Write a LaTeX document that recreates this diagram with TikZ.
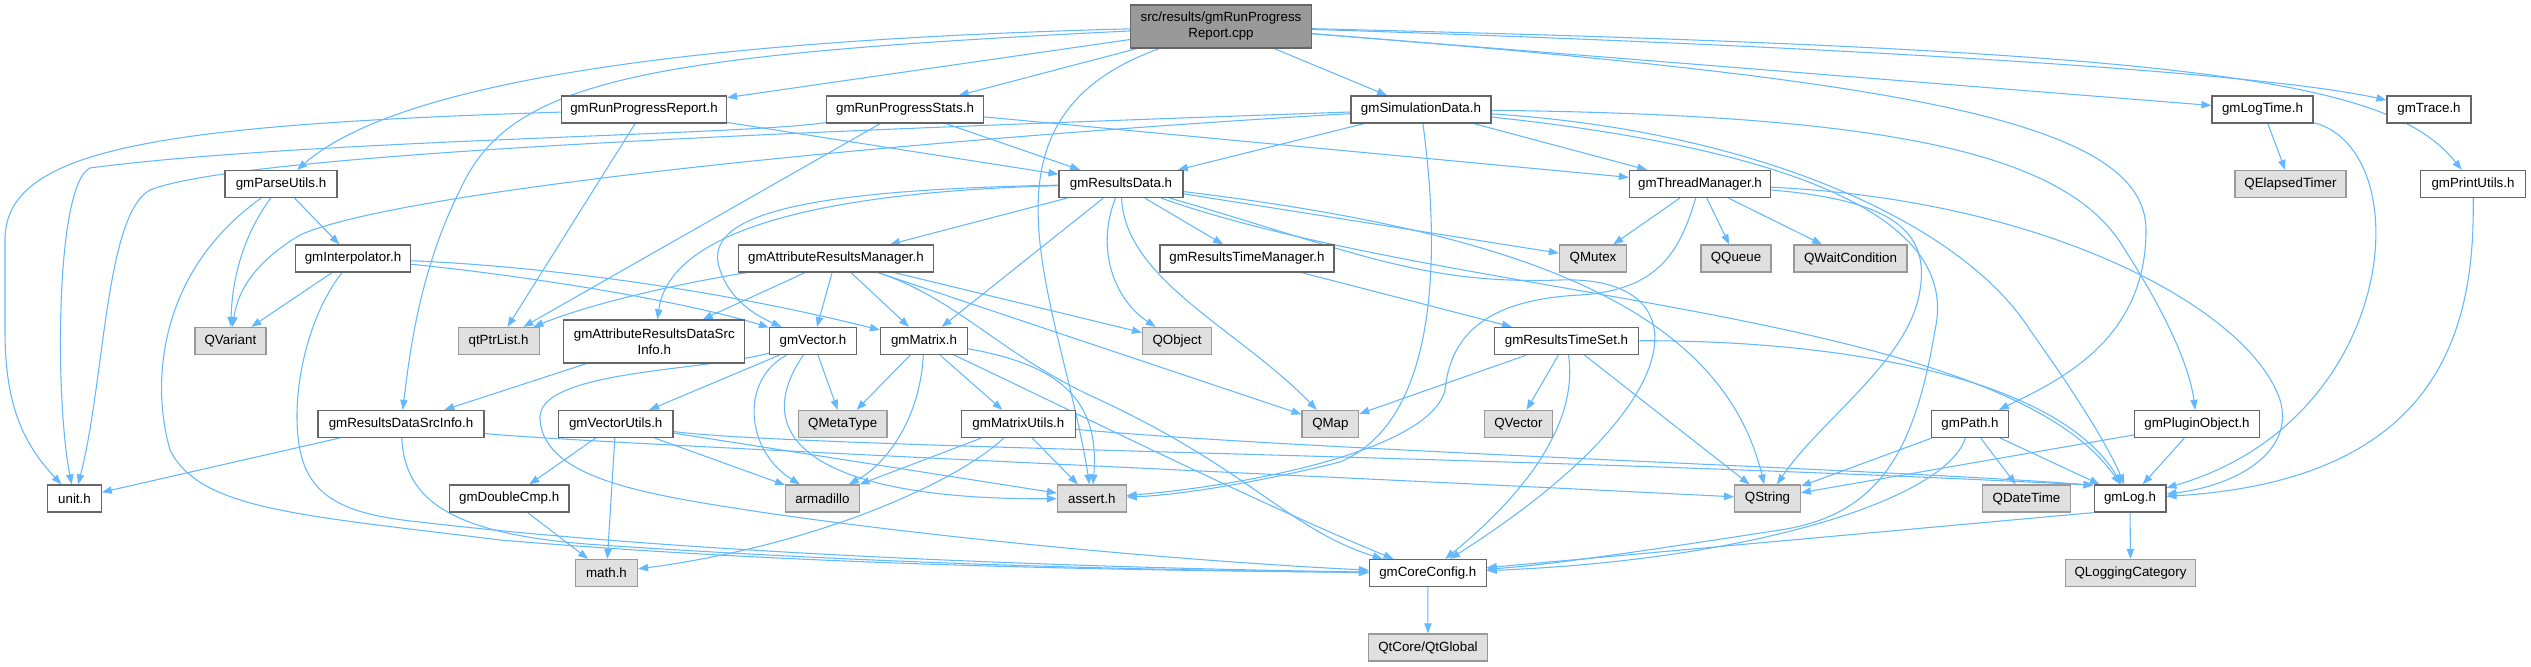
\documentclass[tikz,border=0pt]{standalone}
\usepackage{fontspec}
\setmainfont{Liberation Sans}
\usetikzlibrary{arrows.meta}
\pgfdeclarelayer{edges}
\pgfsetlayers{edges,main}
\definecolor{incblue}{HTML}{63B8FF}
\definecolor{boxgray}{HTML}{666666}
\definecolor{extgray}{HTML}{999999}
\definecolor{extfill}{HTML}{E0E0E0}

\begin{document}
\begin{tikzpicture}[x=0.75pt, y=-0.75pt, font=\fontsize{10}{12}\selectfont,
  hdr/.style={draw=boxgray, fill=white, line width=0.9pt, minimum height=20.25pt, inner xsep=2pt, inner ysep=1pt, align=center},
  ext/.style={hdr, draw=extgray, fill=extfill},
  srcfile/.style={hdr, fill=extgray, minimum height=32.25pt},
  wd/.style={minimum width=#1*0.75pt},
  inc/.style={draw=incblue, line width=0.8pt, -{Triangle[length=7.5pt, width=5.5pt]}}]
\useasboundingbox (0,0) rectangle (2531,667);
\node[srcfile, wd=181](root) at(1221,26.5){src/results/gmRunProgress\\Report.cpp};
\node[hdr, wd=165](report) at(644,109.5){gmRunProgressReport.h};
\node[hdr, wd=157](stats) at(905,109.5){gmRunProgressStats.h};
\node[hdr, wd=140](simdata) at(1421,109.5){gmSimulationData.h};
\node[hdr, wd=101](logtime) at(2262.5,109.5){gmLogTime.h};
\node[hdr, wd=84](trace) at(2429,109.5){gmTrace.h};
\node[hdr, wd=112](parse) at(281,184){gmParseUtils.h};
\node[hdr, wd=124](resdata) at(1121,184){gmResultsData.h};
\node[hdr, wd=141](thread) at(1700,184){gmThreadManager.h};
\node[ext, wd=111](elapsed) at(2290.5,184){QElapsedTimer};
\node[hdr, wd=105](printu) at(2473,184){gmPrintUtils.h};
\node[hdr, wd=115](interp) at(353,258.5){gmInterpolator.h};
\node[hdr, wd=195](attrmgr) at(836,258.5){gmAttributeResultsManager.h};
\node[hdr, wd=174](timemgr) at(1247,258.5){gmResultsTimeManager.h};
\node[ext, wd=67](mutex) at(1593,258.5){QMutex};
\node[ext, wd=70](queue) at(1736,258.5){QQueue};
\node[ext, wd=113](waitc) at(1850.5,258.5){QWaitCondition};
\node[ext, wd=71](variant) at(230.4,341){QVariant};
\node[ext, wd=81](ptrlist) at(498.6,341){qtPtrList.h};
\node[hdr, wd=181, minimum height=32.25pt](attrsrc) at(654.3,341.5){gmAttributeResultsDataSrc\\Info.h};
\node[hdr, wd=87](vec) at(813,341){gmVector.h};
\node[hdr, wd=87](mat) at(924,341){gmMatrix.h};
\node[ext, wd=69](qobj) at(1177,341){QObject};
\node[hdr, wd=144.5](timeset) at(1566.5,341){gmResultsTimeSet.h};
\node[hdr, wd=166](srcinfo) at(401,424){gmResultsDataSrcInfo.h};
\node[hdr, wd=114.6](vecutil) at(615.7,424){gmVectorUtils.h};
\node[ext, wd=88.6](metatype) at(842.7,424){QMetaType};
\node[hdr, wd=113.5](matutil) at(1018.4,424){gmMatrixUtils.h};
\node[ext, wd=56.7](qmap) at(1330.4,424){QMap};
\node[ext, wd=68.6](qvec) at(1518.4,424){QVector};
\node[hdr, wd=77.6](gmpath) at(1970,424){gmPath.h};
\node[hdr, wd=124.5](plugin) at(2197,424){gmPluginObject.h};
\node[hdr, wd=53.5](unit) at(74.5,498.5){unit.h};
\node[hdr, wd=119.6](dblcmp) at(509.2,498.5){gmDoubleCmp.h};
\node[ext, wd=73.5](arma) at(822.4,498.5){armadillo};
\node[ext, wd=68.6](assrt) at(1091.8,498.5){assert.h};
\node[ext, wd=65.7](qstr) at(1767.5,498.5){QString};
\node[ext, wd=88](datetime) at(2026.5,498.5){QDateTime};
\node[hdr, wd=71.8](gmlog) at(2130,498.5){gmLog.h};
\node[ext, wd=62](mathh) at(606.5,573){math.h};
\node[hdr, wd=116.7](core) at(1427.8,573){gmCoreConfig.h};
\node[ext, wd=130](logcat) at(2130.5,573){QLoggingCategory};
\node[ext, wd=118.8](qtglobal) at(1428,647.5){QtCore/QtGlobal};
\begin{pgfonlayer}{edges}
\draw[inc] (root) .. controls (700,40) and (400,80) .. (parse);
\draw[inc] (root) -- (report);
\draw[inc] (root) -- (stats);
\draw[inc] (root) -- (simdata);
\draw[inc] (root) .. controls (640,55) and (510,80) .. (460,190) .. controls (420,270) and (410,350) .. (srcinfo);
\draw[inc] (root) .. controls (960,120) and (1060,300) .. (assrt);
\draw[inc] (root) -- (logtime);
\draw[inc] (root) .. controls (1800,45) and (2250,70) .. (trace);
\draw[inc] (root) .. controls (2200,50) and (2390,80) .. (printu);
\draw[inc] (root) .. controls (1900,80) and (2146,120) .. (2146,230) .. controls (2146,340) and (2060,380) .. (gmpath);
\draw[inc] (report) .. controls (150,125) and (5,150) .. (5,240) -- (5,330) .. controls (5,400) and (20,440) .. (unit);
\draw[inc] (report) -- (ptrlist);
\draw[inc] (report) -- (resdata);
\draw[inc] (stats) .. controls (750,135) and (300,140) .. (90,168) .. controls (55,185) and (55,400) .. (unit);
\draw[inc] (stats) -- (ptrlist);
\draw[inc] (stats) -- (resdata);
\draw[inc] (stats) -- (thread);
\draw[inc] (simdata) .. controls (900,128) and (250,150) .. (150,190) .. controls (105,215) and (105,380) .. (unit);
\draw[inc] (simdata) .. controls (900,140) and (400,190) .. (300,235) .. controls (255,262) and (238,290) .. (variant);
\draw[inc] (simdata) -- (resdata);
\draw[inc] (simdata) -- (thread);
\draw[inc] (simdata) .. controls (1440,250) and (1440,420) .. (1340,462) .. controls (1260,482) and (1180,495) .. (assrt);
\draw[inc] (simdata) .. controls (1900,115) and (2070,155) .. (2125,250) .. controls (2170,320) and (2190,370) .. (plugin);
\draw[inc] (simdata) .. controls (1750,130) and (1960,220) .. (2030,330) .. controls (2080,400) and (2110,450) .. (gmlog);
\draw[inc] (simdata) .. controls (1800,150) and (1960,220) .. (1935,330) .. controls (1915,450) and (1880,515) .. (1780,530) .. controls (1650,550) and (1550,565) .. (core);
\draw[inc] (resdata) .. controls (820,192) and (670,230) .. (attrsrc);
\draw[inc] (resdata) .. controls (800,190) and (700,215) .. (720,270) .. controls (730,300) and (755,315) .. (vec);
\draw[inc] (resdata) -- (attrmgr);
\draw[inc] (resdata) -- (mat);
\draw[inc] (resdata) .. controls (1095,250) and (1115,300) .. (qobj);
\draw[inc] (resdata) .. controls (1125,280) and (1240,330) .. (qmap);
\draw[inc] (resdata) -- (timemgr);
\draw[inc] (resdata) -- (mutex);
\draw[inc] (resdata) .. controls (1500,230) and (1720,300) .. (qstr);
\draw[inc] (resdata) .. controls (1450,300) and (2000,310) .. (gmlog);
\draw[inc] (resdata) .. controls (1350,250) and (1420,285) .. (1560,280) .. controls (1700,275) and (1700,400) .. (core);
\draw[inc] (attrmgr) .. controls (700,280) and (600,300) .. (ptrlist);
\draw[inc] (attrmgr) -- (attrsrc);
\draw[inc] (attrmgr) -- (vec);
\draw[inc] (attrmgr) -- (mat);
\draw[inc] (attrmgr) -- (qobj);
\draw[inc] (attrmgr) -- (qmap);
\draw[inc] (attrmgr) .. controls (960,300) and (1000,355) .. (1100,400) .. controls (1250,470) and (1290,530) .. (core);
\draw[inc] (timemgr) -- (timeset);
\draw[inc] (timeset) -- (qmap);
\draw[inc] (timeset) -- (qvec);
\draw[inc] (timeset) .. controls (1578,420) and (1530,490) .. (core);
\draw[inc] (timeset) -- (qstr);
\draw[inc] (timeset) .. controls (1850,340) and (2060,380) .. (gmlog);
\draw[inc] (thread) -- (mutex);
\draw[inc] (thread) -- (queue);
\draw[inc] (thread) -- (waitc);
\draw[inc] (thread) .. controls (1680,250) and (1660,290) .. (1580,295) .. controls (1480,300) and (1450,340) .. (1445,390) .. controls (1430,450) and (1250,485) .. (assrt);
\draw[inc] (thread) .. controls (1890,200) and (1930,230) .. (1920,290) .. controls (1910,360) and (1820,420) .. (qstr);
\draw[inc] (thread) .. controls (2050,200) and (2250,310) .. (2280,400) .. controls (2295,450) and (2240,485) .. (gmlog);
\draw[inc] (parse) .. controls (240,240) and (232,285) .. (variant);
\draw[inc] (parse) -- (interp);
\draw[inc] (parse) .. controls (160,270) and (150,380) .. (170,450) .. controls (200,510) and (300,515) .. (500,540) .. controls (800,565) and (1100,570) .. (core);
\draw[inc] (interp) -- (variant);
\draw[inc] (interp) .. controls (305,320) and (290,400) .. (300,450) .. controls (310,500) and (350,515) .. (420,522) .. controls (700,555) and (1100,568) .. (core);
\draw[inc] (interp) .. controls (520,275) and (680,300) .. (vec);
\draw[inc] (interp) .. controls (520,265) and (700,285) .. (mat);
\draw[inc] (attrsrc) -- (srcinfo);
\draw[inc] (srcinfo) -- (unit);
\draw[inc] (srcinfo) .. controls (405,500) and (450,535) .. (600,545) .. controls (900,565) and (1150,570) .. (core);
\draw[inc] (srcinfo) .. controls (560,442) and (1300,475) .. (qstr);
\draw[inc] (vec) -- (vecutil);
\draw[inc] (vec) -- (metatype);
\draw[inc] (vec) .. controls (740,380) and (745,450) .. (arma);
\draw[inc] (vec) .. controls (745,440) and (820,500) .. (assrt);
\draw[inc] (vec) .. controls (700,372) and (535,370) .. (540,420) .. controls (545,480) and (650,495) .. (760,512) .. controls (950,540) and (1200,562) .. (core);
\draw[inc] (mat) -- (metatype);
\draw[inc] (mat) .. controls (920,420) and (885,465) .. (arma);
\draw[inc] (mat) -- (matutil);
\draw[inc] (mat) .. controls (1060,365) and (1100,400) .. (assrt);
\draw[inc] (mat) .. controls (1050,400) and (1250,500) .. (core);
\draw[inc] (matutil) -- (arma);
\draw[inc] (matutil) -- (assrt);
\draw[inc] (matutil) .. controls (960,480) and (820,545) .. (mathh);
\draw[inc] (matutil) .. controls (1300,450) and (1900,470) .. (gmlog.160);
\draw[inc] (vecutil) -- (dblcmp);
\draw[inc] (vecutil) -- (mathh);
\draw[inc] (vecutil) -- (arma);
\draw[inc] (vecutil) -- (assrt);
\draw[inc] (vecutil) .. controls (800,448) and (1500,455) .. (gmlog.160);
\draw[inc] (dblcmp) -- (mathh);
\draw[inc] (logtime) -- (elapsed);
\draw[inc] (logtime) .. controls (2420,150) and (2400,420) .. (gmlog);
\draw[inc] (printu) .. controls (2475,330) and (2440,480) .. (gmlog);
\draw[inc] (gmpath) -- (qstr);
\draw[inc] (gmpath) -- (datetime);
\draw[inc] (gmpath) -- (gmlog);
\draw[inc] (gmpath) .. controls (1945,500) and (1750,560) .. (core);
\draw[inc] (plugin) -- (gmlog);
\draw[inc] (plugin) -- (qstr);
\draw[inc] (gmlog) -- (logcat);
\draw[inc] (gmlog.south west) -- (core);
\draw[inc] (core) -- (qtglobal);
\end{pgfonlayer}
\end{tikzpicture}
\end{document}
